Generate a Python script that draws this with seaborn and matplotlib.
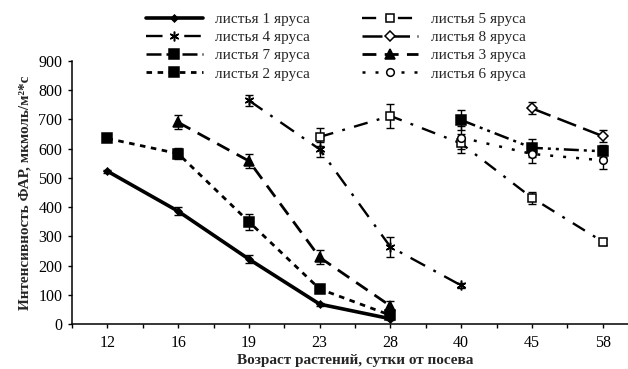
import numpy as np
import pandas as pd
import matplotlib
matplotlib.use("Agg")
import matplotlib.pyplot as plt
import seaborn as sns

categories = ["12", "16", "19", "23", "28", "40", "45", "58"]
nan = np.nan

tier1 = [523, 386, 222, 68, 18, nan, nan, nan]
tier1_err = [5, 14, 14, 5, 5, nan, nan, nan]
tier2 = [635, 583, 350, 120, 30, nan, nan, nan]
tier2_err = [8, 20, 28, 10, 10, nan, nan, nan]
tier3 = [nan, 690, 558, 228, 62, nan, nan, nan]
tier3_err = [nan, 24, 25, 24, 15, nan, nan, nan]
tier4 = [nan, nan, 765, 598, 264, 132, nan, nan]
tier4_err = [nan, nan, 20, 25, 35, 8, nan, nan]
tier5 = [nan, nan, nan, 640, 712, 618, 432, 282]
tier5_err = [nan, nan, nan, 30, 40, 32, 20, 10]
tier6 = [nan, nan, nan, nan, nan, 638, 582, 560]
tier6_err = [nan, nan, nan, nan, nan, 40, 30, 30]
tier7 = [nan, nan, nan, nan, nan, 698, 603, 591]
tier7_err = [nan, nan, nan, nan, nan, 35, 30, 20]
tier8 = [nan, nan, nan, nan, nan, nan, 738, 643]
tier8_err = [nan, nan, nan, nan, nan, nan, 20, 20]

labels = ["листья 1 яруса", "листья 4 яруса", "листья 7 яруса", "листья 2 яруса",
          "листья 5 яруса", "листья 8 яруса", "листья 3 яруса", "листья 6 яруса"]

sns.set_theme(style="ticks")
plt.rcParams["font.family"] = ["Liberation Serif", "DejaVu Serif"]

fig = plt.figure(figsize=(6.28, 3.69), dpi=100)
ax = fig.add_axes([72 / 628, 45 / 369, 566 / 628, 263 / 369])

x = np.arange(len(categories))

styles = {
    "листья 1 яруса": dict(data=tier1, err=tier1_err, ls="-", lw=2.6, marker="D", ms=3.5, mfc="black"),
    "листья 4 яруса": dict(data=tier4, err=tier4_err, ls=(0, (7, 4, 1.2, 4)), lw=1.7, marker=(6, 2, 0), ms=7, mfc="black"),
    "листья 7 яруса": dict(data=tier7, err=tier7_err, ls=(0, (6, 2, 1.2, 2, 1.2, 2)), lw=1.8, marker="s", ms=6.5, mfc="black"),
    "листья 2 яруса": dict(data=tier2, err=tier2_err, ls=(0, (2, 2)), lw=2.0, marker="s", ms=6.5, mfc="black"),
    "листья 5 яруса": dict(data=tier5, err=tier5_err, ls=(0, (6, 4, 1.2, 4)), lw=1.7, marker="s", ms=5.5, mfc="white"),
    "листья 8 яруса": dict(data=tier8, err=tier8_err, ls=(0, (8, 3)), lw=1.8, marker="D", ms=5.5, mfc="white"),
    "листья 3 яруса": dict(data=tier3, err=tier3_err, ls=(0, (5, 3)), lw=2.0, marker="^", ms=7, mfc="black"),
    "листья 6 яруса": dict(data=tier6, err=tier6_err, ls=(0, (1.2, 4)), lw=1.8, marker="o", ms=5.5, mfc="white"),
}

handles = []
for lab in labels:
    st = styles[lab]
    y = np.array(st["data"], dtype=float)
    e = np.array(st["err"], dtype=float)
    ax.errorbar(x, y, yerr=e, fmt="none", ecolor="black", elinewidth=1.0,
                capsize=3, capthick=1.0, zorder=2, label="_nolegend_")
    df = pd.DataFrame({"x": x, "y": y}).dropna()
    sns.lineplot(data=df, x="x", y="y", ax=ax, color="black", linestyle=st["ls"],
                 linewidth=st["lw"], marker=st["marker"], markersize=st["ms"],
                 markerfacecolor=st["mfc"], markeredgecolor="black",
                 markeredgewidth=1.1, label=lab, zorder=3, legend=False)
    handles.append(ax.get_lines()[-1])

ax.set_xlim(-0.5, len(categories) - 0.5)
ax.set_ylim(0, 900)
ax.set_yticks(np.arange(0, 901, 100))
ax.set_xticks(x)
ax.set_xticklabels(categories)
ax.set_xticks(np.arange(-0.5, len(categories), 1.0), minor=True)
ax.tick_params(axis="both", which="both", direction="out", length=3, width=1,
               colors="black", labelsize=11.5, pad=4)
ax.tick_params(axis="x", which="major", pad=5)
for s in ["top", "right"]:
    ax.spines[s].set_visible(False)
for s in ["left", "bottom"]:
    ax.spines[s].set_linewidth(1.1)
    ax.spines[s].set_color("black")

ax.set_xlabel("Возраст растений, сутки от посева", fontsize=11, fontweight="bold", labelpad=2)
ax.set_ylabel("Интенсивность ФАР, мкмоль/м²*с", fontsize=11, fontweight="bold", labelpad=5)

leg = fig.legend(handles=handles, labels=labels, ncol=2, loc="upper left",
                 bbox_to_anchor=(134 / 628, 1.0), frameon=False, fontsize=11,
                 handlelength=3.7, handletextpad=0.8, columnspacing=3.4,
                 labelspacing=0.3, borderaxespad=0.4)

fig.savefig("out.png", dpi=100)
